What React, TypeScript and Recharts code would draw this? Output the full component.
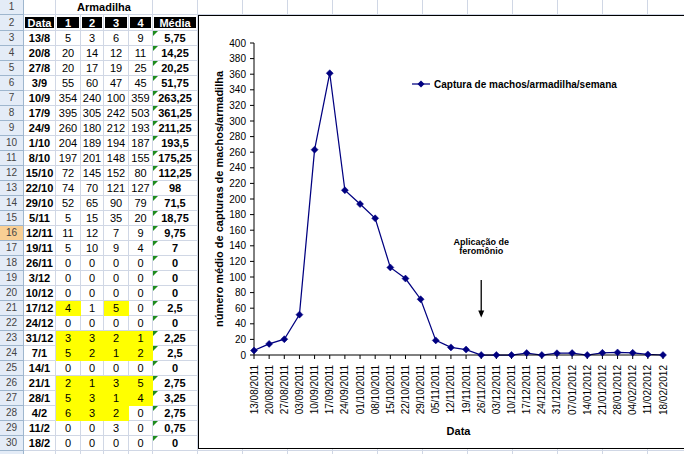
import { LineChart, Line, XAxis, YAxis, Legend, ReferenceLine } from 'recharts'

// planilha (linhas 3 a 30)
const tableDates = ['13/8', '20/8', '27/8', '3/9', '10/9', '17/9', '24/9', '1/10', '8/10', '15/10', '22/10', '29/10', '5/11', '12/11', '19/11', '26/11', '3/12', '10/12', '17/12', '24/12', '31/12', '7/1', '14/1', '21/1', '28/1', '4/2', '11/2', '18/2']
const trap1 = [5, 20, 20, 55, 354, 395, 260, 204, 197, 72, 74, 52, 5, 11, 5, 0, 0, 0, 4, 0, 3, 5, 0, 2, 5, 6, 0, 0]
const trap2 = [3, 14, 17, 60, 240, 305, 180, 189, 201, 145, 70, 65, 15, 12, 10, 0, 0, 0, 1, 0, 3, 2, 0, 1, 3, 3, 0, 0]
const trap3 = [6, 12, 19, 47, 100, 242, 212, 194, 148, 152, 121, 90, 35, 7, 9, 0, 0, 0, 5, 0, 2, 1, 0, 3, 1, 2, 3, 0]
const trap4 = [9, 11, 25, 45, 359, 503, 193, 187, 155, 80, 127, 79, 20, 9, 4, 0, 0, 0, 0, 0, 1, 2, 0, 5, 4, 0, 0, 0]
const media = [5.75, 14.25, 20.25, 51.75, 263.25, 361.25, 211.25, 193.5, 175.25, 112.25, 98, 71.5, 18.75, 9.75, 7, 0, 0, 0, 2.5, 0, 2.25, 2.5, 0, 2.75, 3.25, 2.75, 0.75, 0]
const headers = ['Data', '1', '2', '3', '4', 'Média']
// células amarelas: [data, armadilha]
const yellowCells: [string, number][] = [
  ['17/12', 1], ['17/12', 3],
  ['31/12', 1], ['31/12', 2], ['31/12', 3], ['31/12', 4],
  ['7/1', 1], ['7/1', 2], ['7/1', 3], ['7/1', 4],
  ['21/1', 1], ['21/1', 2], ['21/1', 3], ['21/1', 4],
  ['28/1', 1], ['28/1', 2], ['28/1', 3], ['28/1', 4],
  ['4/2', 1], ['4/2', 2], ['4/2', 3],
]

// gráfico
const chartDates = ['13/08/2011', '20/08/2011', '27/08/2011', '03/09/2011', '10/09/2011', '17/09/2011', '24/09/2011', '01/10/2011', '08/10/2011', '15/10/2011', '22/10/2011', '29/10/2011', '05/11/2011', '12/11/2011', '19/11/2011', '26/11/2011', '03/12/2011', '10/12/2011', '17/12/2011', '24/12/2011', '31/12/2011', '07/01/2012', '14/01/2012', '21/01/2012', '28/01/2012', '04/02/2012', '11/02/2012', '18/02/2012']
const yTicks = [0, 20, 40, 60, 80, 100, 120, 140, 160, 180, 200, 220, 240, 260, 280, 300, 320, 340, 360, 380, 400]
const seriesName = 'Captura de machos/armadilha/semana'
const yTitle = 'número médio de capturas de machos/armadilha'
const xTitle = 'Data'
const noteLines = ['Aplicação de', 'feromônio']
const noteDate = '26/11/2011'
const noteFrom = 96
const noteTo = 48

const FONT = '"Liberation Sans", Arial, sans-serif'
const NAVY = '#000080'
const GRID = '#d0d7e5'

const colX = [0, 24, 56, 81, 104, 129, 153, 198, 243, 288, 333, 378, 423, 468, 513, 558, 603, 648, 693]
const rowTop = (r: number) => (r === 1 ? 0 : r === 2 ? 15 : 31 + (r - 3) * 15)
const rowH = (r: number) => (r === 2 ? 16 : 15)

const data = chartDates.map((d, i) => ({ date: d, media: media[i] }))

function Sheet() {
  const cells: any[] = []
  for (let r = 1; r <= 31; r++) {
    const top = rowTop(r)
    const h = rowH(r)
    for (let c = 0; c < colX.length - 1; c++) {
      if (r === 1 && c >= 3 && c <= 5) continue
      const left = colX[c]
      const right = r === 1 && c === 2 ? colX[6] : colX[c + 1]
      const style: any = {
        position: 'absolute', left, top, width: right - left, height: h, boxSizing: 'border-box',
        borderRight: `1px solid ${GRID}`, borderBottom: `1px solid ${GRID}`,
        textAlign: 'center', lineHeight: `${h - 1}px`, fontSize: 11, fontFamily: FONT, color: '#000',
        whiteSpace: 'nowrap', overflow: 'hidden',
      }
      let content: any = null
      if (c === 0) {
        style.background = r === 16 ? '#f9cf94' : '#e4ecf7'
        style.borderRight = '1px solid #9eb6ce'
        style.borderBottom = '1px solid #9eb6ce'
        style.fontSize = 10
        style.color = '#444'
        // a linha 31 só aparece cortada na borda de baixo
        content = r <= 30 ? r : null
      } else if (r === 1 && c === 2) {
        style.fontWeight = 'bold'
        content = 'Armadilha'
      } else if (r === 2 && c <= 6) {
        content = (
          <div style={{ position: 'absolute', left: 1, right: 1, top: 2, bottom: 2, background: '#000', color: '#fff', fontWeight: 'bold', lineHeight: '12px' }}>
            {headers[c - 1]}
          </div>
        )
      } else if (r >= 3 && r <= 30 && c <= 6) {
        const i = r - 3
        if (c === 1) {
          style.fontWeight = 'bold'
          content = tableDates[i]
        } else if (c <= 5) {
          const t = c - 1
          content = [trap1, trap2, trap3, trap4][t - 1][i]
          if (yellowCells.some(([d, k]) => d === tableDates[i] && k === t)) {
            style.background = '#ffff00'
            style.borderRight = '1px solid #ffff00'
            style.borderBottom = '1px solid #ffff00'
          }
        } else {
          style.fontWeight = 'bold'
          content = (
            <>
              <div style={{ position: 'absolute', left: 0, top: 0, width: 0, height: 0, borderTop: '5px solid #1e8c1e', borderRight: '5px solid transparent' }} />
              {String(media[i]).replace('.', ',')}
            </>
          )
        }
      }
      cells.push(<div key={`${r}-${c}`} style={style}>{content}</div>)
    }
  }
  return <>{cells}</>
}

function Diamond(props: any) {
  const { cx, cy, index } = props
  if (cx == null || cy == null) return null
  return <path key={index} d={`M${cx},${cy - 3.5}L${cx + 3.5},${cy}L${cx},${cy + 3.5}L${cx - 3.5},${cy}Z`} fill={NAVY} stroke={NAVY} strokeWidth={0.5} />
}

function DateTick(props: any) {
  const { x, y, payload } = props
  return (
    <text x={x} y={y} transform={`rotate(-90 ${x} ${y})`} textAnchor="end" dominantBaseline="central" fontSize={10} fontFamily={FONT} fill="#000">
      {payload.value}
    </text>
  )
}

function YTitle(props: any) {
  const vb = props.viewBox
  const x = vb.x + 20
  const y = vb.y + vb.height / 2
  return (
    <text x={x} y={y} transform={`rotate(-90 ${x} ${y})`} textAnchor="middle" dominantBaseline="central" fontSize={11} fontWeight="bold" fontFamily={FONT} fill="#000">
      {yTitle}
    </text>
  )
}

function XTitle(props: any) {
  const vb = props.viewBox
  return (
    <text x={vb.x + vb.width / 2} y={vb.y + vb.height - 13.5} textAnchor="middle" fontSize={11} fontWeight="bold" fontFamily={FONT} fill="#000">
      {xTitle}
    </text>
  )
}

function NoteArrow(props: any) {
  const { x1, y1, x2, y2 } = props
  return (
    <g>
      <text x={x1} y={y1 - 35} textAnchor="middle" fontSize={9} fontWeight="bold" fontFamily={FONT} fill="#000">{noteLines[0]}</text>
      <text x={x1} y={y1 - 26} textAnchor="middle" fontSize={9} fontWeight="bold" fontFamily={FONT} fill="#000">{noteLines[1]}</text>
      <line x1={x1} y1={y1} x2={x2} y2={y2 - 5} stroke="#000" strokeWidth={1.3} />
      <path d={`M${x2 - 3},${y2 - 7}L${x2 + 3},${y2 - 7}L${x2},${y2}Z`} fill="#000" />
    </g>
  )
}

function LegendBox() {
  return (
    <div style={{ display: 'flex', alignItems: 'center', fontFamily: FONT, fontSize: 10, fontWeight: 'bold', whiteSpace: 'nowrap', color: '#000' }}>
      <svg width={19} height={12}>
        <line x1={0} y1={6} x2={18} y2={6} stroke={NAVY} strokeWidth={1.25} />
        <path d="M9,2.5L12.5,6L9,9.5L5.5,6Z" fill={NAVY} />
      </svg>
      <span style={{ marginLeft: 3 }}>{seriesName}</span>
    </div>
  )
}

export default function App() {
  return (
    <div style={{ position: 'relative', width: 684, height: 454, overflow: 'hidden', background: '#fff' }}>
      <style>{'html,body{margin:0;padding:0;overflow:hidden}'}</style>
      <Sheet />
      <div style={{ position: 'absolute', left: 198, top: 15, width: 500, height: 434, border: '1px solid #000', background: '#fff', boxSizing: 'border-box' }}>
        <LineChart width={486} height={432} data={data} margin={{ top: 27, right: 22, bottom: 0, left: 0 }} style={{ fontFamily: FONT }}>
          <XAxis
            dataKey="date"
            interval={0}
            tickSize={4}
            tickMargin={6}
            height={93}
            tick={DateTick}
            axisLine={{ stroke: '#000' }}
            tickLine={{ stroke: '#000' }}
            label={{ content: XTitle }}
          />
          <YAxis
            domain={[0, 400]}
            ticks={yTicks}
            interval={0}
            width={55}
            tickSize={4}
            tickMargin={4}
            tick={{ fontSize: 10, fill: '#000', fontFamily: FONT }}
            axisLine={{ stroke: '#000' }}
            tickLine={{ stroke: '#000' }}
            label={{ content: YTitle }}
          />
          <Legend
            layout="vertical"
            align="center"
            verticalAlign="middle"
            content={LegendBox}
            wrapperStyle={{ left: 213, top: 62, width: 'auto' }}
          />
          <ReferenceLine
            segment={[{ x: noteDate, y: noteFrom }, { x: noteDate, y: noteTo }]}
            shape={NoteArrow}
          />
          <Line
            type="linear"
            dataKey="media"
            name={seriesName}
            stroke={NAVY}
            strokeWidth={1.25}
            dot={Diamond}
            activeDot={false}
            isAnimationActive={false}
          />
        </LineChart>
      </div>
    </div>
  )
}
